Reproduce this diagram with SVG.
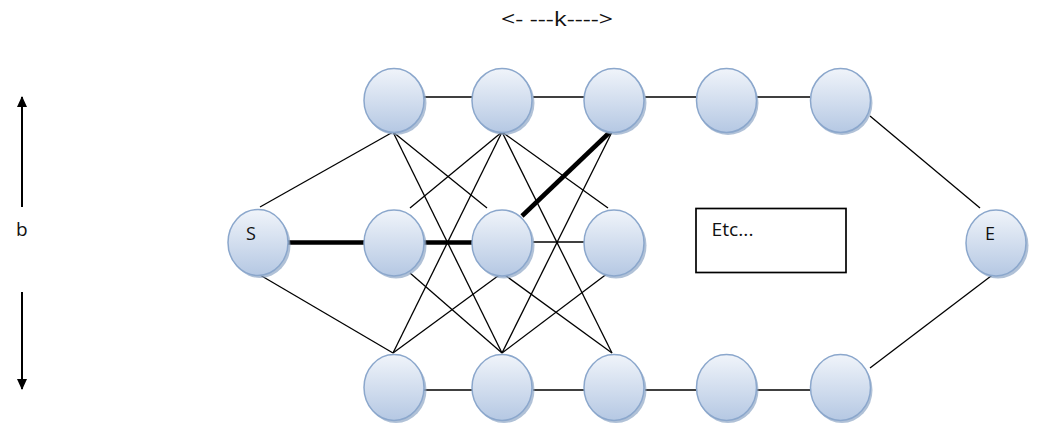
<svg xmlns="http://www.w3.org/2000/svg" width="1043" height="438" viewBox="0 0 1043 438">
<defs>
<linearGradient id="g" x1="0" y1="0" x2="0" y2="1">
<stop offset="0" stop-color="#f0f4fa"/>
<stop offset="1" stop-color="#b5c8e3"/>
</linearGradient>
<marker id="ah" markerWidth="11" markerHeight="10" refX="10" refY="5" orient="auto" markerUnits="userSpaceOnUse" viewBox="0 0 11 10">
<path d="M0,0 L11,5 L0,10 Z" fill="#000"/>
</marker>
<style>
.e{stroke:#000;stroke-width:1.3;fill:none}
.t{stroke:#000;stroke-width:4.5;fill:none}
.sh{fill:#8ea6c6;opacity:0.7}
.n{fill:url(#g);stroke:#8ba7cc;stroke-width:1.5}
.lbl{font-family:"Open Sans","Liberation Sans",sans-serif;fill:#111}
</style>
</defs>
<rect width="1043" height="438" fill="#fff"/>
<text class="lbl" x="501" y="26" font-size="20" textLength="112" lengthAdjust="spacingAndGlyphs">&lt;- ---k----&gt;</text>
<g id="b-axis">
<line x1="22" y1="207" x2="22" y2="97" stroke="#000" stroke-width="2" marker-end="url(#ah)"/>
<text class="lbl" x="16" y="236" font-size="19">b</text>
<line x1="22" y1="292" x2="22" y2="389" stroke="#000" stroke-width="2" marker-end="url(#ah)"/>
</g>
<g id="connectors">
<line class="e" x1="260" y1="207" x2="393" y2="132"/>
<line class="e" x1="260" y1="275" x2="393" y2="353"/>
<line class="e" x1="424" y1="97" x2="472" y2="97"/>
<line class="e" x1="533" y1="97" x2="584" y2="97"/>
<line class="e" x1="645" y1="97" x2="696" y2="97"/>
<line class="e" x1="757" y1="97" x2="810" y2="97"/>
<line class="e" x1="870" y1="116" x2="980" y2="208"/>
<line class="e" x1="995" y1="273" x2="870" y2="368"/>
<line class="e" x1="424" y1="390" x2="472" y2="390"/>
<line class="e" x1="533" y1="390" x2="584" y2="390"/>
<line class="e" x1="645" y1="390" x2="696" y2="390"/>
<line class="e" x1="757" y1="390" x2="810" y2="390"/>
<line class="e" x1="533" y1="242" x2="584" y2="242"/>
<line class="e" x1="393" y1="132" x2="487" y2="208"/>
<line class="e" x1="393" y1="132" x2="502" y2="353"/>
<line class="e" x1="502" y1="132" x2="410" y2="208"/>
<line class="e" x1="502" y1="132" x2="393" y2="353"/>
<line class="e" x1="502" y1="132" x2="608" y2="208"/>
<line class="e" x1="502" y1="132" x2="612" y2="353"/>
<line class="e" x1="612" y1="132" x2="502" y2="353"/>
<line class="e" x1="410" y1="273" x2="502" y2="353"/>
<line class="e" x1="502" y1="273" x2="393" y2="353"/>
<line class="e" x1="502" y1="273" x2="612" y2="353"/>
<line class="e" x1="608" y1="273" x2="502" y2="353"/>
<line class="t" x1="288" y1="242.5" x2="364" y2="242.5"/>
<line class="t" x1="424" y1="242.5" x2="472" y2="242.5"/>
<line class="t" x1="610" y1="132" x2="522" y2="216"/>
</g>
<g id="node-S"><ellipse class="sh" cx="260" cy="245" rx="30.5" ry="33"/><ellipse class="n" cx="258" cy="242.5" rx="30" ry="33"/><text class="lbl" x="246" y="239.5" font-size="18">S</text></g>
<g id="node-t1"><ellipse class="sh" cx="396" cy="103" rx="30.5" ry="32"/><ellipse class="n" cx="394" cy="100.5" rx="30" ry="32"/></g>
<g id="node-t2"><ellipse class="sh" cx="504" cy="103" rx="30.5" ry="32"/><ellipse class="n" cx="502" cy="100.5" rx="30" ry="32"/></g>
<g id="node-t3"><ellipse class="sh" cx="616" cy="103" rx="30.5" ry="32"/><ellipse class="n" cx="614" cy="100.5" rx="30" ry="32"/></g>
<g id="node-t4"><ellipse class="sh" cx="728" cy="103" rx="30.5" ry="32"/><ellipse class="n" cx="726.5" cy="100.5" rx="30" ry="32"/></g>
<g id="node-t5"><ellipse class="sh" cx="842" cy="103" rx="30.5" ry="32"/><ellipse class="n" cx="840.5" cy="100.5" rx="30" ry="32"/></g>
<g id="node-m1"><ellipse class="sh" cx="396" cy="245.5" rx="30.5" ry="33"/><ellipse class="n" cx="394" cy="243" rx="30" ry="33"/></g>
<g id="node-m2"><ellipse class="sh" cx="504" cy="245.5" rx="30.5" ry="33"/><ellipse class="n" cx="502" cy="243" rx="30" ry="33"/></g>
<g id="node-m3"><ellipse class="sh" cx="616" cy="245.5" rx="30.5" ry="33"/><ellipse class="n" cx="614" cy="243" rx="30" ry="33"/></g>
<g id="node-b1"><ellipse class="sh" cx="396" cy="390" rx="30.5" ry="33"/><ellipse class="n" cx="394" cy="387.5" rx="30" ry="33"/></g>
<g id="node-b2"><ellipse class="sh" cx="504" cy="390" rx="30.5" ry="33"/><ellipse class="n" cx="502" cy="387.5" rx="30" ry="33"/></g>
<g id="node-b3"><ellipse class="sh" cx="616" cy="390" rx="30.5" ry="33"/><ellipse class="n" cx="614" cy="387.5" rx="30" ry="33"/></g>
<g id="node-b4"><ellipse class="sh" cx="728" cy="390" rx="30.5" ry="33"/><ellipse class="n" cx="726.5" cy="387.5" rx="30" ry="33"/></g>
<g id="node-b5"><ellipse class="sh" cx="842" cy="390" rx="30.5" ry="33"/><ellipse class="n" cx="840.5" cy="387.5" rx="30" ry="33"/></g>
<g id="node-E"><ellipse class="sh" cx="998" cy="245.5" rx="30.5" ry="33"/><ellipse class="n" cx="996" cy="243" rx="30" ry="33"/><text class="lbl" x="985" y="240" font-size="18">E</text></g>
<g id="node-etc"><rect x="696" y="208.5" width="150" height="64" fill="#fff" stroke="#000" stroke-width="1.7"/><text class="lbl" x="711.5" y="236" font-size="18" textLength="42" lengthAdjust="spacingAndGlyphs">Etc...</text></g>
</svg>
